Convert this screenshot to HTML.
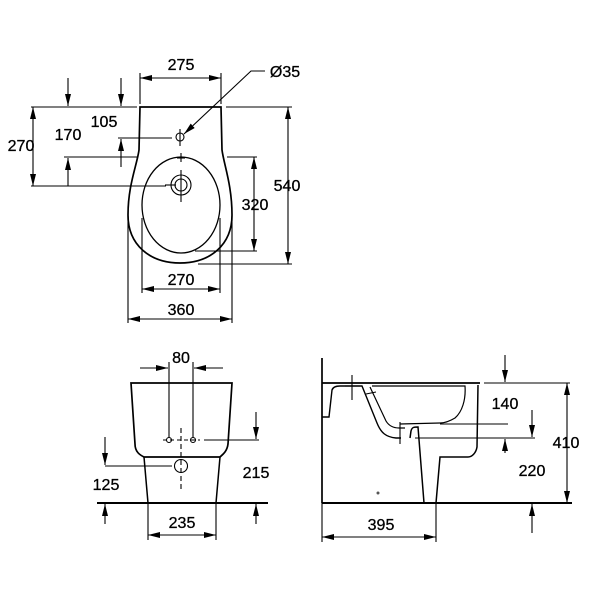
<!DOCTYPE html>
<html><head><meta charset="utf-8"><style>
html,body{margin:0;padding:0;background:#fff;}
svg{display:block;}
text{font-family:"Liberation Sans",Arial,sans-serif;font-size:16px;fill:#000;stroke:#000;stroke-width:0.3;text-anchor:middle;}
</style></head><body>
<svg width="600" height="600" viewBox="0 0 600 600" xmlns="http://www.w3.org/2000/svg">
<defs>
<marker id="a" viewBox="0 0 12 6" refX="12" refY="3" markerWidth="12" markerHeight="6" markerUnits="userSpaceOnUse" orient="auto-start-reverse">
<path d="M0,0 L12,3 L0,6 z" fill="#000"/></marker>
</defs>
<g fill="none" stroke="#000" stroke-width="1.1">
<path stroke-width="1.7" d="M140,107 L221,107 L222,150 C224,165 232,185 232,215 C232,245 210,263 180,263 C150,263 128,245 128,215 C128,185 137,165 139,150 Z"/>
<ellipse cx="181" cy="205" rx="39" ry="48" stroke-width="1.3"/>
<circle cx="180" cy="137" r="4"/>
<circle cx="181" cy="185" r="10"/>
<circle cx="181" cy="185" r="6"/>
<line x1="181" y1="153" x2="181" y2="162"/>
<line x1="177" y1="158" x2="185" y2="158"/>
<line x1="181" y1="170" x2="181" y2="202"/>
<line x1="165" y1="185" x2="176" y2="185"/>
<line x1="180" y1="129" x2="180" y2="146"/>
<line x1="140" y1="73" x2="140" y2="104"/>
<line x1="221" y1="73" x2="221" y2="104"/>
<line x1="140" y1="78" x2="221" y2="78" marker-start="url(#a)" marker-end="url(#a)"/>
<path d="M265,71 L251,71 L184,134" marker-end="url(#a)"/>
<line x1="31" y1="107" x2="137" y2="107"/>
<line x1="31" y1="186" x2="166" y2="186"/>
<line x1="33" y1="107" x2="33" y2="186" marker-start="url(#a)" marker-end="url(#a)"/>
<line x1="64" y1="157" x2="137" y2="157"/>
<line x1="68" y1="78" x2="68" y2="106" marker-end="url(#a)"/>
<line x1="68" y1="186" x2="68" y2="158" marker-end="url(#a)"/>
<line x1="118" y1="138" x2="172" y2="138"/>
<line x1="121" y1="78" x2="121" y2="106" marker-end="url(#a)"/>
<line x1="121" y1="167" x2="121" y2="139" marker-end="url(#a)"/>
<line x1="227" y1="157" x2="257" y2="157"/>
<line x1="195" y1="251" x2="257" y2="251"/>
<line x1="254" y1="157" x2="254" y2="251" marker-start="url(#a)" marker-end="url(#a)"/>
<line x1="226" y1="107" x2="292" y2="107"/>
<line x1="198" y1="264" x2="292" y2="264"/>
<line x1="288" y1="107" x2="288" y2="264" marker-start="url(#a)" marker-end="url(#a)"/>
<line x1="142" y1="218" x2="142" y2="293"/>
<line x1="220" y1="218" x2="220" y2="293"/>
<line x1="142" y1="289" x2="220" y2="289" marker-start="url(#a)" marker-end="url(#a)"/>
<line x1="128" y1="216" x2="128" y2="323"/>
<line x1="232" y1="216" x2="232" y2="323"/>
<line x1="128" y1="319" x2="232" y2="319" marker-start="url(#a)" marker-end="url(#a)"/>

<path stroke-width="1.7" d="M131,383 L232,383 L228,444 C227,452 222,455 220,457 L144,457 C140,455 135,452 135,444 Z"/>
<path stroke-width="1.5" d="M144,457 L148,503 M220,457 L216,503"/>
<line x1="97" y1="503" x2="268" y2="503" stroke-width="2"/>
<circle cx="169" cy="440" r="2.5"/>
<circle cx="193" cy="440" r="2.5"/>
<circle cx="181" cy="466" r="6.5"/>
<line x1="181" y1="428" x2="181" y2="490" stroke-dasharray="5,3"/>
<line x1="163" y1="440" x2="200" y2="440" stroke-dasharray="4,3"/>
<line x1="169" y1="362" x2="169" y2="438"/>
<line x1="193" y1="362" x2="193" y2="438"/>
<line x1="140" y1="368" x2="168" y2="368" marker-end="url(#a)"/>
<line x1="223" y1="368" x2="194" y2="368" marker-end="url(#a)"/>
<line x1="204" y1="440" x2="259" y2="440"/>
<line x1="256" y1="412" x2="256" y2="439" marker-end="url(#a)"/>
<line x1="256" y1="524" x2="256" y2="504" marker-end="url(#a)"/>
<line x1="105" y1="466" x2="172" y2="466"/>
<line x1="105" y1="437" x2="105" y2="465" marker-end="url(#a)"/>
<line x1="105" y1="524" x2="105" y2="504" marker-end="url(#a)"/>
<line x1="148" y1="503" x2="148" y2="540"/>
<line x1="216" y1="503" x2="216" y2="540"/>
<line x1="148" y1="535" x2="216" y2="535" marker-start="url(#a)" marker-end="url(#a)"/>

<line x1="322" y1="358" x2="322" y2="503" stroke-width="1.7"/>
<line x1="322" y1="503" x2="572" y2="503" stroke-width="2"/>
<line x1="322" y1="383" x2="480" y2="383" stroke-width="1.7"/>
<line x1="484" y1="383" x2="570" y2="383"/>
<path stroke-width="1.5" d="M478,385 L477,447 C476,453 472,457 468,457 L440,457 L436,503"/>
<path stroke-width="1.4" d="M322,417 L329,417 L332,390 C333,387 336,386 340,386 L362,386 L377,423 C381,433 386,437 396,438 L401,438"/>
<path stroke-width="1.2" d="M370,387 L386,421 C389,426 393,428 399,428 L405,428"/>
<path stroke-width="1.5" d="M410,438 L411,431 C412,427 414,427 418,427 L424,503"/>
<path stroke-width="1.2" d="M372,386 L465,386 C466,400 462,412 455,418 C450,421 445,423 440,423 L400,424"/>
<line x1="366" y1="394" x2="376" y2="392"/>
<line x1="352" y1="375" x2="352" y2="400"/>
<line x1="345" y1="386" x2="360" y2="386"/>
<line x1="400" y1="422" x2="400" y2="444"/>
<circle cx="378" cy="493" r="1.5" fill="#555" stroke="none"/>
<line x1="440" y1="424" x2="508" y2="424"/>
<line x1="415" y1="438" x2="535" y2="438"/>
<line x1="505" y1="355" x2="505" y2="382" marker-end="url(#a)"/>
<line x1="505" y1="453" x2="505" y2="439" marker-end="url(#a)"/>
<line x1="532" y1="410" x2="532" y2="437" marker-end="url(#a)"/>
<line x1="532" y1="533" x2="532" y2="504" marker-end="url(#a)"/>
<line x1="567" y1="383" x2="567" y2="503" marker-start="url(#a)" marker-end="url(#a)"/>
<line x1="436" y1="503" x2="436" y2="542"/>
<line x1="322" y1="503" x2="322" y2="542"/>
<line x1="322" y1="537" x2="436" y2="537" marker-start="url(#a)" marker-end="url(#a)"/>
</g>
<text x="181" y="70">275</text>
<text x="285" y="77">Ø35</text>
<text x="21" y="151">270</text>
<text x="68" y="140">170</text>
<text x="104" y="127">105</text>
<text x="255" y="210">320</text>
<text x="287" y="191">540</text>
<text x="181" y="285">270</text>
<text x="181" y="315">360</text>
<text x="181" y="363">80</text>
<text x="256" y="478">215</text>
<text x="106" y="490">125</text>
<text x="182" y="528">235</text>
<text x="505" y="409">140</text>
<text x="532" y="476">220</text>
<text x="566" y="448">410</text>
<text x="381" y="530">395</text>
</svg>
</body></html>
